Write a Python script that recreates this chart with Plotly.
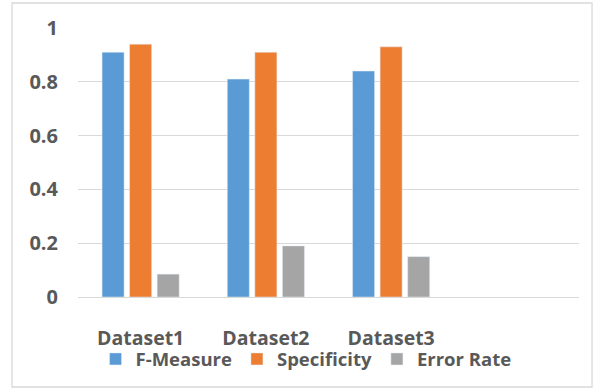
import plotly.graph_objects as go

# Scores per dataset
categories = ["Dataset1", "Dataset2", "Dataset3"]
f_measure = [0.91, 0.81, 0.84]
specificity = [0.94, 0.91, 0.93]
error_rate = [0.085, 0.19, 0.15]
y_ticks = [0, 0.2, 0.4, 0.6, 0.8, 1]
y_tick_labels = ["0", "0.2", "0.4", "0.6", "0.8", "1"]

text_color = "#595959"
grid_color = "#d9d9d9"


def bold(size):
    return dict(family="Open Sans", size=size, color=text_color, weight=700)


fig = go.Figure()
fig.add_trace(go.Bar(name="F-Measure", x=categories, y=f_measure, marker_color="#5B9BD5"))
fig.add_trace(go.Bar(name="Specificity", x=categories, y=specificity, marker_color="#ED7D31"))
fig.add_trace(go.Bar(name="Error Rate", x=categories, y=error_rate, marker_color="#A5A5A5"))

fig.update_layout(
    width=593,
    height=388,
    margin=dict(l=78, r=14, t=28, b=91, autoexpand=False),
    paper_bgcolor="white",
    plot_bgcolor="white",
    barmode="group",
    bargap=0.34,
    bargroupgap=0.2,
    font=bold(19),
    showlegend=True,
    legend=dict(
        orientation="h",
        x=0.035,
        xanchor="left",
        y=-0.232,
        yanchor="middle",
        font=bold(18.5),
        itemwidth=30,
        tracegroupgap=0,
        bgcolor="rgba(0,0,0,0)",
    ),
    xaxis=dict(
        type="category",
        range=[-0.5, 3.5],
        showgrid=False,
        showline=False,
        zeroline=False,
        ticks="",
        ticklabelstandoff=27,
        tickfont=bold(19.5),
        automargin=False,
    ),
    yaxis=dict(
        range=[0, 1],
        tickvals=y_ticks,
        ticktext=y_tick_labels,
        showgrid=True,
        gridcolor=grid_color,
        gridwidth=1.3,
        zeroline=True,
        zerolinecolor=grid_color,
        zerolinewidth=1.3,
        showline=False,
        ticks="",
        ticklabelstandoff=19,
        tickfont=bold(20),
        automargin=False,
    ),
    shapes=[
        dict(
            type="rect",
            xref="paper",
            yref="paper",
            x0=-0.1317,
            x1=1.026,
            y0=-0.3346,
            y1=1.093,
            line=dict(color=grid_color, width=1.3),
            fillcolor="rgba(0,0,0,0)",
            layer="below",
        )
    ],
)

fig.write_html("out.html")
